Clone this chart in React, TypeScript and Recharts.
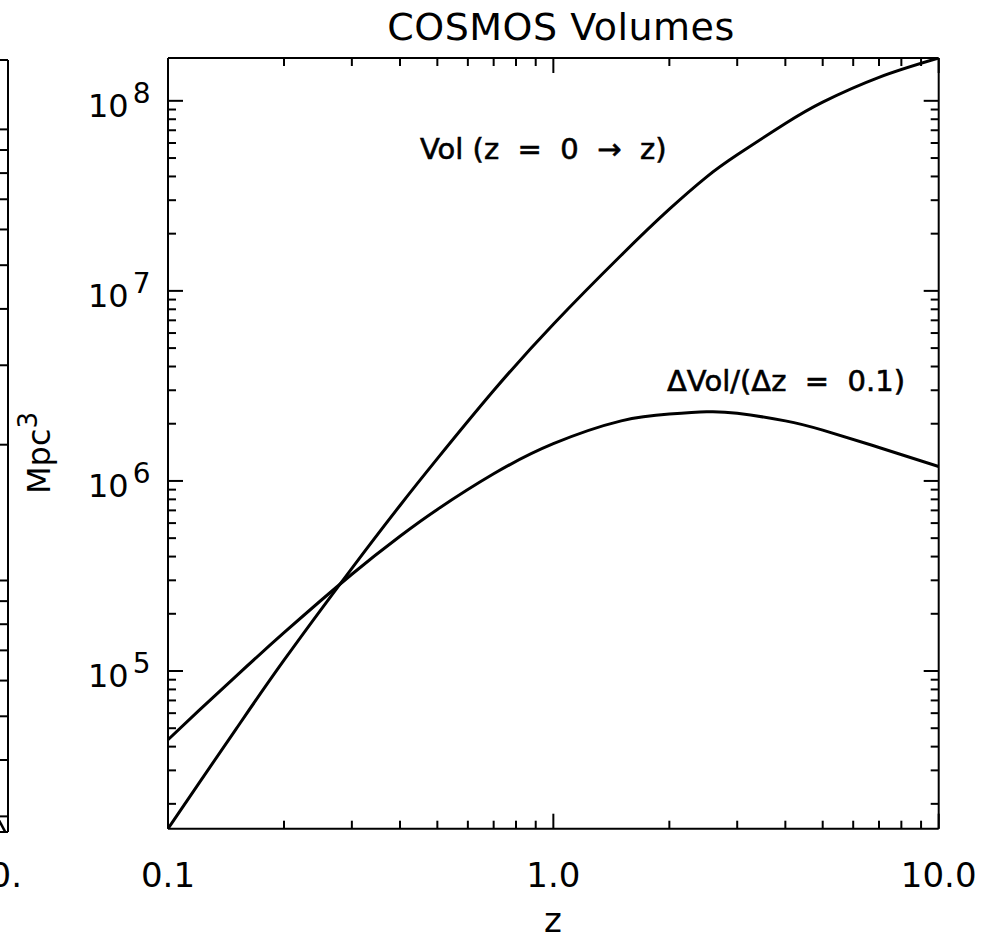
import React from "react";
import { Line, LineChart, XAxis, YAxis } from "recharts";

// redshift samples and the two volume curves (Mpc^3)
const redshifts = [0.1, 0.12, 0.15, 0.2, 0.3, 0.4, 0.5, 0.7, 1.0, 1.5, 2, 2.5, 3, 4, 5, 7, 10];
const cumulativeVolume = [
  1.48e4, 2.55e4, 4.93e4, 1.14e5, 3.47e5, 7.43e5, 1.31e6, 2.99e6, 6.68e6,
  1.54e7, 2.69e7, 3.98e7, 5.2e7, 7.6e7, 9.85e7, 1.33e8, 1.68e8,
];
const shellVolume = [
  4.35e4, 6.17e4, 9.38e4, 1.59e5, 3.23e5, 5.12e5, 7.08e5, 1.09e6, 1.57e6,
  2.07e6, 2.25e6, 2.31e6, 2.27e6, 2.07e6, 1.85e6, 1.5e6, 1.19e6,
];

// axis ticks
const xMajorTicks = [0.1, 1, 10];
const xTickLabels = ["0.1", "1.0", "10.0"];
const xDecades = [0.1, 1];
const yMajorTicks = [1e5, 1e6, 1e7, 1e8];
const yTickExponents = ["5", "6", "7", "8"];
const yDecades = [1e4, 1e5, 1e6, 1e7];
const minorSteps = [2, 3, 4, 5, 6, 7, 8, 9];

const xDomain = [0.1, 10];
const yDomain = [1.48e4, 1.68e8];

// bit of the neighbouring panel that is cut off on the left
const neighborYDomain = [0.277, 14.25];
const neighborYMajors = [1, 10];
const neighborDecades = [0.1, 1, 10];
const neighborX = [0.95, 1.0];
const neighborY = [0.31, 0.27];

const FONT = "DejaVu Sans";

const withMinors = (decades: number[], majors: number[], domain: number[]) =>
  [
    ...majors,
    ...decades.flatMap((d) => minorSteps.map((s) => +(d * s).toPrecision(6))),
  ]
    .filter((v) => v >= domain[0] && v <= domain[1])
    .sort((a, b) => a - b);

const xTicks = withMinors(xDecades, xMajorTicks, xDomain);
const yTicks = withMinors(yDecades, yMajorTicks, yDomain);
const neighborTicks = withMinors(neighborDecades, neighborYMajors, neighborYDomain);

const chartData = redshifts.map((z, i) => ({
  z,
  vol: cumulativeVolume[i],
  dvol: shellVolume[i],
}));
const neighborData = neighborX.map((x, i) => ({ x, y: neighborY[i] }));

const inward: Record<string, [number, number]> = {
  bottom: [0, -1],
  top: [0, 1],
  left: [1, 0],
  right: [-1, 0],
};

const isIn = (list: number[], v: number) =>
  list.findIndex((m) => Math.abs(m - v) / m < 1e-6);

const AxisTick = (props: any) => {
  const { x, y, payload, side, majors, showLabels } = props;
  const v = payload.value;
  const idx = isIn(majors, v);
  const len = idx >= 0 ? 15 : 8;
  const [dx, dy] = inward[side];
  let label = null;
  if (idx >= 0 && showLabels && side === "bottom") {
    label = (
      <text x={x} y={y + 58} textAnchor="middle" fontFamily={FONT} fontSize={34} fill="#000">
        {xTickLabels[idx]}
      </text>
    );
  }
  if (idx >= 0 && showLabels && side === "left") {
    label = (
      <text x={x - 80} y={y + 16} fontFamily={FONT} fontSize={32} fill="#000">
        10
        <tspan fontSize={28} dx={4} dy={-14}>
          {yTickExponents[idx]}
        </tspan>
      </text>
    );
  }
  return (
    <g>
      <line x1={x} y1={y} x2={x + dx * len} y2={y + dy * len} stroke="#000" strokeWidth={2} />
      {label}
    </g>
  );
};

const axisLine = { stroke: "#000", strokeWidth: 2 };

const curveLabel = {
  fontFamily: FONT,
  fontSize: 29,
  fill: "#000",
  stroke: "#000",
  strokeWidth: 0.6,
  style: { whiteSpace: "pre" as const },
};

export default function App() {
  return (
    <div
      style={{
        position: "absolute",
        left: 0,
        top: 0,
        width: 1004,
        height: 941,
        overflow: "hidden",
        background: "#fff",
      }}
    >
      <div style={{ position: "absolute", left: -282, top: 0 }}>
        <LineChart
          width={300}
          height={941}
          data={neighborData}
          margin={{ top: 30, right: 0, bottom: 79, left: 0 }}
        >
          <XAxis xAxisId="b" dataKey="x" type="number" domain={[0, 1]} ticks={[]} height={30} axisLine={axisLine} tickLine={false} />
          <XAxis xAxisId="t" orientation="top" dataKey="x" type="number" domain={[0, 1]} ticks={[]} height={30} axisLine={axisLine} tickLine={false} />
          <YAxis
            yAxisId="r"
            orientation="right"
            type="number"
            scale="log"
            domain={neighborYDomain}
            allowDataOverflow
            ticks={neighborTicks}
            interval={0}
            width={10}
            tickSize={0}
            tickMargin={0}
            axisLine={axisLine}
            tickLine={false}
            tick={(p: any) => <AxisTick {...p} side="right" majors={neighborYMajors} />}
          />
          <Line xAxisId="b" yAxisId="r" dataKey="y" stroke="#000" strokeWidth={2.5} dot={false} isAnimationActive={false} />
        </LineChart>
      </div>

      <div style={{ position: "absolute", left: 0, top: 0 }}>
        <LineChart
          width={1004}
          height={941}
          data={chartData}
          margin={{ top: 28, right: 5.3, bottom: 82.3, left: 108 }}
        >
          <XAxis
            xAxisId="b"
            dataKey="z"
            type="number"
            scale="log"
            domain={xDomain}
            allowDataOverflow
            ticks={xTicks}
            interval={0}
            height={30}
            tickSize={0}
            tickMargin={0}
            axisLine={axisLine}
            tickLine={false}
            tick={(p: any) => <AxisTick {...p} side="bottom" majors={xMajorTicks} showLabels />}
          />
          <XAxis
            xAxisId="t"
            orientation="top"
            dataKey="z"
            type="number"
            scale="log"
            domain={xDomain}
            allowDataOverflow
            ticks={xTicks}
            interval={0}
            height={30}
            tickSize={0}
            tickMargin={0}
            axisLine={axisLine}
            tickLine={false}
            tick={(p: any) => <AxisTick {...p} side="top" majors={xMajorTicks} />}
          />
          <YAxis
            yAxisId="l"
            type="number"
            scale="log"
            domain={yDomain}
            allowDataOverflow
            ticks={yTicks}
            interval={0}
            width={60}
            tickSize={0}
            tickMargin={0}
            axisLine={axisLine}
            tickLine={false}
            tick={(p: any) => <AxisTick {...p} side="left" majors={yMajorTicks} showLabels />}
          />
          <YAxis
            yAxisId="r"
            orientation="right"
            type="number"
            scale="log"
            domain={yDomain}
            allowDataOverflow
            ticks={yTicks}
            interval={0}
            width={60}
            tickSize={0}
            tickMargin={0}
            axisLine={axisLine}
            tickLine={false}
            tick={(p: any) => <AxisTick {...p} side="right" majors={yMajorTicks} />}
          />
          <Line xAxisId="b" yAxisId="l" dataKey="vol" type="natural" stroke="#000" strokeWidth={3} dot={false} isAnimationActive={false} />
          <Line xAxisId="b" yAxisId="l" dataKey="dvol" type="natural" stroke="#000" strokeWidth={3} dot={false} isAnimationActive={false} />

          <text x={561} y={40} textAnchor="middle" fontFamily={FONT} fontSize={38} fill="#000" letterSpacing={0.5}>
            COSMOS Volumes
          </text>
          <text x={553} y={932} textAnchor="middle" fontFamily={FONT} fontSize={34} fill="#000">
            z
          </text>
          <text
            transform="translate(50 453) rotate(-90)"
            textAnchor="middle"
            fontFamily={FONT}
            fontSize={32}
            fill="#000"
          >
            Mpc
            <tspan fontSize={26} dy={-13}>3</tspan>
          </text>
          <text x={420} y={159} {...curveLabel}>
            {"Vol (z  =  0  \u2192  z)"}
          </text>
          <text x={667} y={391} {...curveLabel}>
            {"\u0394Vol/(\u0394z  =  0.1)"}
          </text>
          <text x={22} y={887} textAnchor="end" fontFamily={FONT} fontSize={34} fill="#000">
            10.
          </text>
        </LineChart>
      </div>
    </div>
  );
}
